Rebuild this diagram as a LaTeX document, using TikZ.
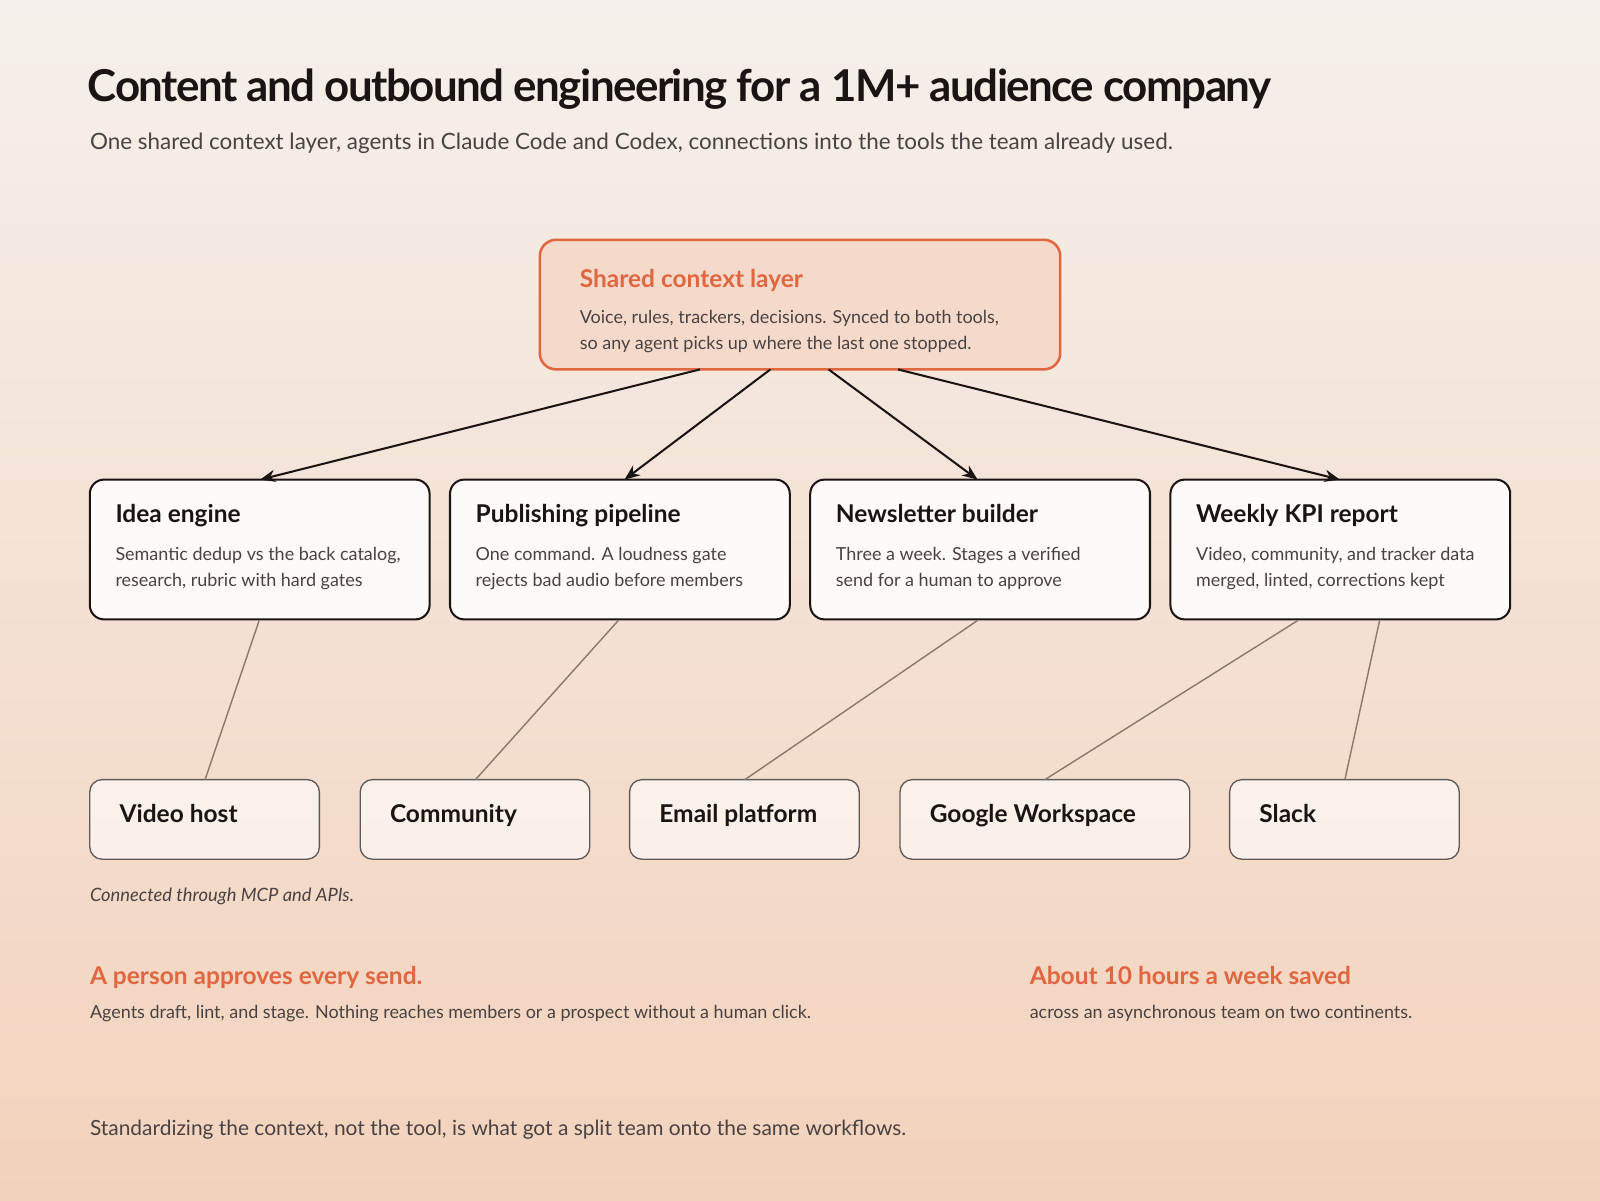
\documentclass[tikz,border=0pt]{standalone}
\usepackage{fontspec}
\setmainfont{Lato}
\newfontfamily\titlefont[LetterSpace=-3.5]{Lato}
\usetikzlibrary{arrows.meta}
\definecolor{orng}{HTML}{E0663F}
\definecolor{ink}{HTML}{1A1414}
\definecolor{body}{HTML}{4A4242}
\definecolor{lnk}{HTML}{8A7A70}
\definecolor{bgtop}{HTML}{F5F0EB}
\definecolor{bgbot}{HTML}{F3D2BC}
\definecolor{shfill}{HTML}{F5DACB}
\begin{document}
\begin{tikzpicture}[x=1pt,y=-1pt,
  txt/.style={anchor=west,inner sep=0pt,text=body,font=\fontsize{17.6}{26}\selectfont},
  hd/.style={anchor=west,inner sep=0pt,text height=0.72em,text depth=0.2em,text=ink,font=\fontsize{24}{28}\selectfont\bfseries},
  mid/.style={draw=ink,line width=2pt,rounded corners=14pt,fill=white,fill opacity=0.85,text opacity=1},
  low/.style={draw=ink!70,line width=1.3pt,rounded corners=12pt,fill=white,fill opacity=0.6,text opacity=1},
  arr/.style={-{Stealth[length=15pt,width=12pt]},draw=ink,line width=2pt},
  con/.style={draw=lnk,line width=1.4pt}]
\shade[top color=bgtop,bottom color=bgbot] (0,0) rectangle (1568,1176);
\useasboundingbox (0,0) rectangle (1568,1176);
\node[hd,font=\fontsize{43}{50}\titlefont\bfseries,text=ink] (title) at (86,97) {Content and outbound engineering for a 1M+ audience company};
\node[txt,text height=0.72em,text depth=0.2em,font=\fontsize{22}{26}\selectfont] (sub) at (88,144) {One shared context layer, agents in Claude Code and Codex, connections into the tools the team already used.};
% shared
\path[draw=orng,line width=2.5pt,rounded corners=16pt,fill=shfill] (529,235) rectangle (1039,362);
\coordinate (S1) at (686,362);\coordinate (S2) at (755,362);\coordinate (S3) at (812,362);\coordinate (S4) at (880,362);
\node[hd,text=orng] (sh) at (568,279) {Shared context layer};
\node[txt,align=left] (shb) at (568,325) {Voice, rules, trackers, decisions. Synced to both tools,\\so any agent picks up where the last one stopped.};
% mid boxes
\foreach \x/\n/\t/\a/\b in {88/A/Idea engine/{Semantic dedup vs the back catalog,}/{research, rubric with hard gates},
  441/B/Publishing pipeline/{One command. A loudness gate}/{rejects bad audio before members},
  794/C/Newsletter builder/{Three a week. Stages a verified}/{send for a human to approve},
  1147/D/Weekly KPI report/{Video, community, and tracker data}/{merged, linted, corrections kept}}{
  \path[mid] (\x,470) rectangle ++(333,137);
  \node[hd] (h\n) at (\x+25,509) {\t};
  \node[txt,align=left] (b\n) at (\x+25,557) {\a\\\b};
}
% low boxes
\foreach \x/\w/\n/\t in {88/225/V/Video host,353/225/Co/Community,617/225/E/Email platform,882/284/G/Google Workspace,1205/225/Sl/Slack}{
  \path[low] (\x,764) rectangle ++(\w,78);
  \node[hd] (l\n) at (\x+29,803) {\t};
}
% arrows
\draw[arr] (S1) -- (255,470);
\draw[arr] (S2) -- (612,470);
\draw[arr] (S3) -- (958,470);
\draw[arr] (S4) -- (1313,470);
\draw[con] (254,608) -- (201,764);
\draw[con] (606,608) -- (466,764);
\draw[con] (958,608) -- (730,764);
\draw[con] (1272,608) -- (1024,764);
\draw[con] (1352,608) -- (1318,764);
\node[txt,text height=0.72em,text depth=0.2em,font=\fontsize{18}{20}\selectfont\itshape] (cn) at (88,881) {Connected through MCP and APIs.};
\node[hd,text=orng] (p1) at (88,962) {A person approves every send.};
\node[txt,text height=0.72em,text depth=0.2em] (p1b) at (88,996) {Agents draft, lint, and stage. Nothing reaches members or a prospect without a human click.};
\node[hd,text=orng] (p2) at (1009,962) {About 10 hours a week saved};
\node[txt,text height=0.72em,text depth=0.2em] (p2b) at (1009,996) {across an asynchronous team on two continents.};
\node[txt,text height=0.72em,text depth=0.2em,font=\fontsize{20.5}{24}\selectfont] (ft) at (88,1110) {Standardizing the context, not the tool, is what got a split team onto the same workflows.};
\end{tikzpicture}
\end{document}
